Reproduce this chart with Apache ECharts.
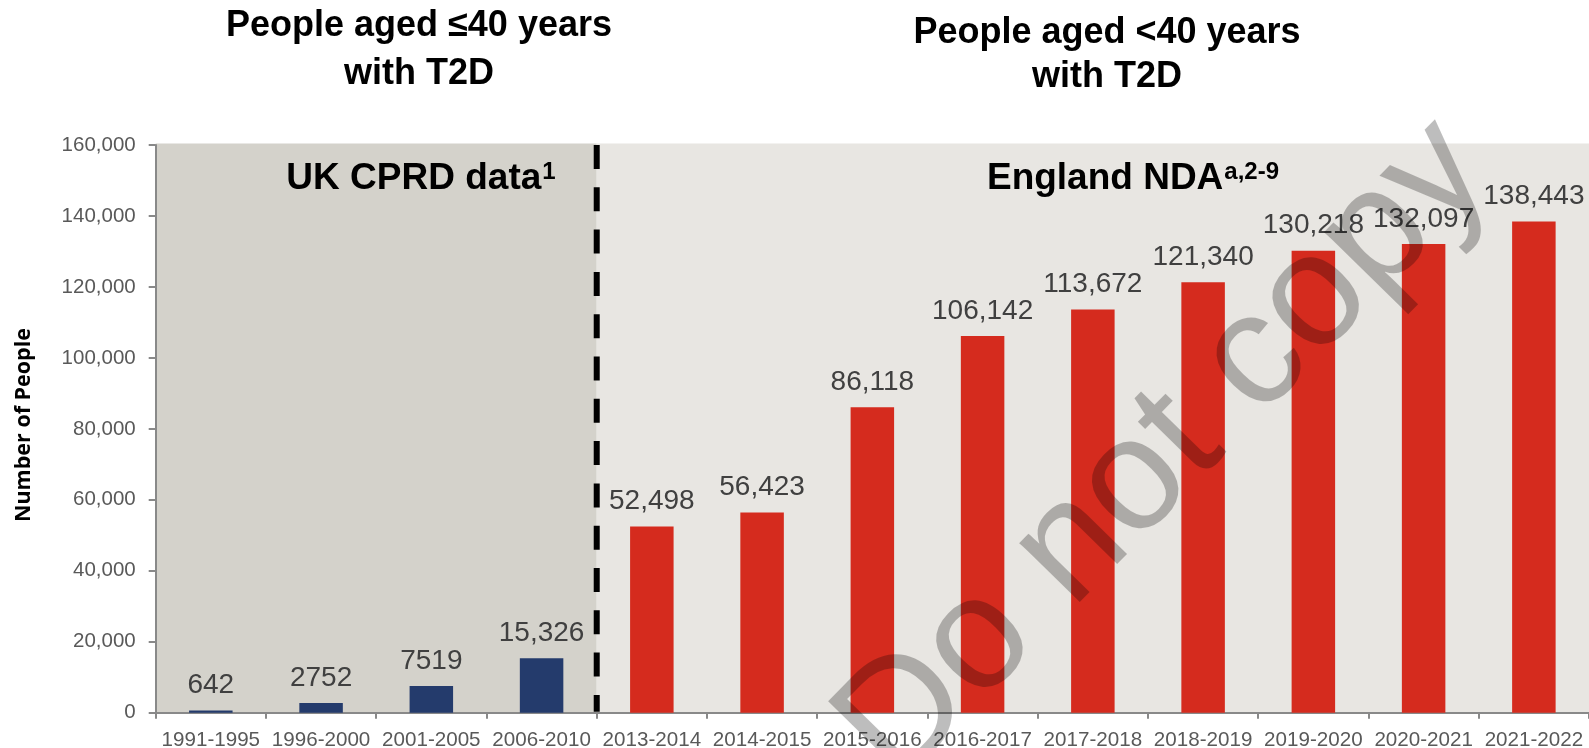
<!DOCTYPE html>
<html><head><meta charset="utf-8">
<script src="https://cdn.jsdelivr.net/npm/echarts@6/dist/echarts.min.js"></script>
<style>html,body{margin:0;padding:0;background:#fff}#c{width:1589px;height:748px}</style>
</head><body><div id="c"></div>
<script>
const categories = ['1991-1995','1996-2000','2001-2005','2006-2010','2013-2014','2014-2015','2015-2016','2016-2017','2017-2018','2018-2019','2019-2020','2020-2021','2021-2022'];
const ukCprdValues = [642, 2752, 7519, 15326, '-', '-', '-', '-', '-', '-', '-', '-', '-'];
const englandNdaValues = ['-', '-', '-', '-', 52498, 56423, 86118, 106142, 113672, 121340, 130218, 132097, 138443];
const yMin = 0, yMax = 160000, yStep = 20000;
const titleLeft = ['People aged \u226440 years', 'with T2D'];
const titleRight = ['People aged <40 years', 'with T2D'];
const yAxisName = 'Number of People';
const watermark = 'Do not copy';

const FONT = '"Liberation Sans", Arial, Helvetica, sans-serif';
const chart = echarts.init(document.getElementById('c'));

function fmtLabel(v) {
  return v < 10000 ? String(v) : v.toLocaleString('en-US');
}

const labelCfg = {
  show: true, position: 'top', distance: 11,
  fontFamily: FONT, fontSize: 28, color: '#404040',
  formatter: p => fmtLabel(p.value)
};

chart.setOption({
  animation: false,
  grid: { left: 155.7, right: 0, top: 145, bottom: 35.3, containLabel: false, outerBoundsMode: 'none' },
  xAxis: {
    type: 'category', data: categories,
    axisLine: { lineStyle: { color: '#898989', width: 2 } },
    axisTick: { show: true, length: 6, lineStyle: { color: '#898989', width: 2 } },
    axisLabel: { interval: 0, margin: 17, fontFamily: FONT, fontSize: 20.6, color: '#595959' },
    splitLine: { show: false }
  },
  yAxis: {
    type: 'value', min: yMin, max: yMax, interval: yStep,
    axisLine: { show: true, lineStyle: { color: '#898989', width: 2 } },
    axisTick: { show: true, length: 7, lineStyle: { color: '#898989', width: 2 } },
    axisLabel: { margin: 20, fontFamily: FONT, fontSize: 20.5, color: '#595959',
      formatter: v => v.toLocaleString('en-US') },
    splitLine: { show: false }
  },
  series: [
    { name: 'UK CPRD', type: 'bar', stack: 'all', barWidth: 43.5, data: ukCprdValues,
      itemStyle: { color: '#243b6c' }, label: labelCfg, z: 3 },
    { name: 'England NDA', type: 'bar', stack: 'all', barWidth: 43.5, data: englandNdaValues,
      itemStyle: { color: '#d52b1e' }, label: labelCfg, z: 3 }
  ]
});

// background panels and divider from the library's scales
const cx = i => chart.convertToPixel({ xAxisIndex: 0 }, categories[i]);
const step = cx(1) - cx(0);
const leftX = cx(0) - step / 2;
const rightX = cx(categories.length - 1) + step / 2;
const divX = cx(3) + step / 2;
const topY = chart.convertToPixel({ yAxisIndex: 0 }, yMax);
const botY = chart.convertToPixel({ yAxisIndex: 0 }, yMin);

const sub = { fontFamily: FONT, fontWeight: 'bold', fontSize: 24, lineHeight: 24, padding: [0, 0, 13, 1], color: '#000' };
const mainTxt = { fontFamily: FONT, fontWeight: 'bold', fontSize: 37, lineHeight: 37, color: '#000' };

chart.setOption({
  graphic: [
    { type: 'rect', z: -10, silent: true,
      shape: { x: leftX, y: topY - 1.5, width: divX - leftX, height: botY - topY + 1.5 },
      style: { fill: '#d4d2cb' } },
    { type: 'rect', z: -10, silent: true,
      shape: { x: divX, y: topY - 1.5, width: rightX - divX + 2, height: botY - topY + 1.5 },
      style: { fill: '#e8e6e2' } },
    { type: 'line', z: 50, silent: true,
      shape: { x1: divX, y1: topY, x2: divX, y2: botY - 1 },
      style: { stroke: '#000', lineWidth: 6, lineDash: [24, 18.3] } },
    // titles
    { type: 'text', z: 50, x: 419, y: 26.3, style: { text: titleLeft[0], font: 'bold 36px ' + FONT, fill: '#000', align: 'center', verticalAlign: 'middle' } },
    { type: 'text', z: 50, x: 419, y: 73.8, style: { text: titleLeft[1], font: 'bold 36px ' + FONT, fill: '#000', align: 'center', verticalAlign: 'middle' } },
    { type: 'text', z: 50, x: 1107, y: 33.4, style: { text: titleRight[0], font: 'bold 36px ' + FONT, fill: '#000', align: 'center', verticalAlign: 'middle' } },
    { type: 'text', z: 50, x: 1107, y: 77, style: { text: titleRight[1], font: 'bold 36px ' + FONT, fill: '#000', align: 'center', verticalAlign: 'middle' } },
    // panel labels
    { type: 'text', z: 50, x: 421, y: 179, style: {
        text: '{m|UK CPRD data}{s|1}', align: 'center', verticalAlign: 'middle',
        rich: { m: mainTxt, s: sub } } },
    { type: 'text', z: 50, x: 1133, y: 179, style: {
        text: '{m|England NDA}{s|a,2-9}', align: 'center', verticalAlign: 'middle',
        rich: { m: mainTxt, s: sub } } },
    // y axis name
    { type: 'text', z: 50, x: 24, y: 425, rotation: Math.PI / 2, style: {
        text: yAxisName, font: 'bold 21.5px "Open Sans", sans-serif', fill: '#000', align: 'center', verticalAlign: 'middle' } },
    // watermark
    { type: 'text', z: 100, silent: true, x: 1165, y: 452, rotation: 0.795, style: {
        text: watermark, font: '160px ' + FONT, fill: 'rgba(0,0,0,0.26)', align: 'center', verticalAlign: 'middle' } }
  ]
});
</script></body></html>
